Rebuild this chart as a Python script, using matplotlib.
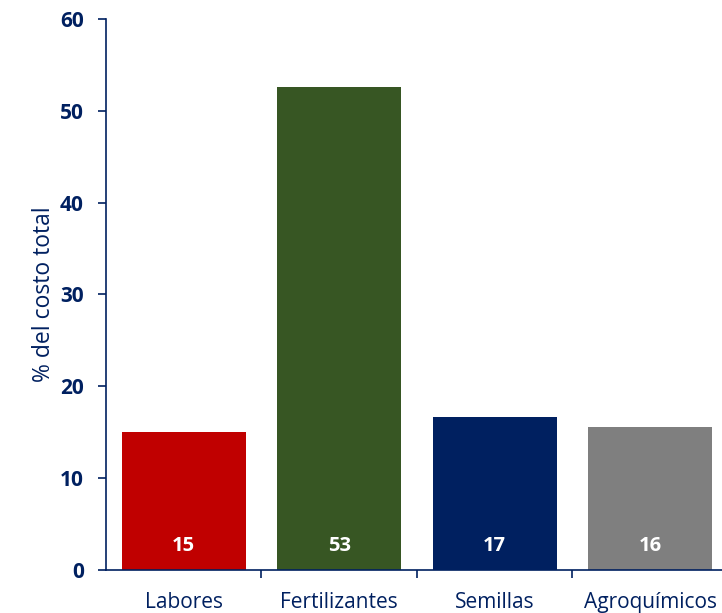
import matplotlib
matplotlib.use('Agg')
import matplotlib.pyplot as plt

# cost shares (% of total cost)
categories = ['Labores', 'Fertilizantes', 'Semillas', 'Agroquímicos']
share = [15.0, 52.6, 16.7, 15.6]
colors = ['#C00000', '#375623', '#002060', '#7F7F7F']

navy = '#002060'
plt.rcParams['font.family'] = ['Open Sans', 'DejaVu Sans']

fig = plt.figure(figsize=(7.22, 6.13), dpi=100)
ax = fig.add_axes([0.1468, 0.0701, 0.8615, 0.899])

x = range(len(categories))
ax.bar(x, share, width=0.8, color=colors)

# value labels near the bottom of each bar
for i, v in enumerate(share):
    ax.text(i, 2.6, '{:.0f}'.format(v), ha='center', va='center',
            color='white', fontsize=14.5, fontweight='bold')

ax.set_xlim(-0.5, len(categories) - 0.5)
ax.set_ylim(0, 60)
ax.set_yticks(range(0, 61, 10))
ax.set_yticklabels([str(t) for t in range(0, 61, 10)],
                   fontweight='bold', fontsize=15, color=navy)

# category names centred, tick marks at the category boundaries
ax.set_xticks([i + 0.5 for i in range(len(categories))])
ax.set_xticklabels([])
ax.set_xticks(list(x), minor=True)
ax.set_xticklabels(categories, minor=True, fontsize=15, color=navy)
ax.tick_params(axis='x', which='minor', length=0, pad=16)
ax.tick_params(axis='x', which='major', length=6, width=1.2, color=navy,
               direction='out')
ax.tick_params(axis='y', length=6, width=1.2, color=navy, direction='out',
               pad=10)

ax.set_ylabel('% del costo total', fontsize=16.5, color=navy, labelpad=3)

for side in ['top', 'right']:
    ax.spines[side].set_visible(False)
for side in ['left', 'bottom']:
    ax.spines[side].set_color(navy)
    ax.spines[side].set_linewidth(1.2)

fig.savefig('out.png', dpi=100)
